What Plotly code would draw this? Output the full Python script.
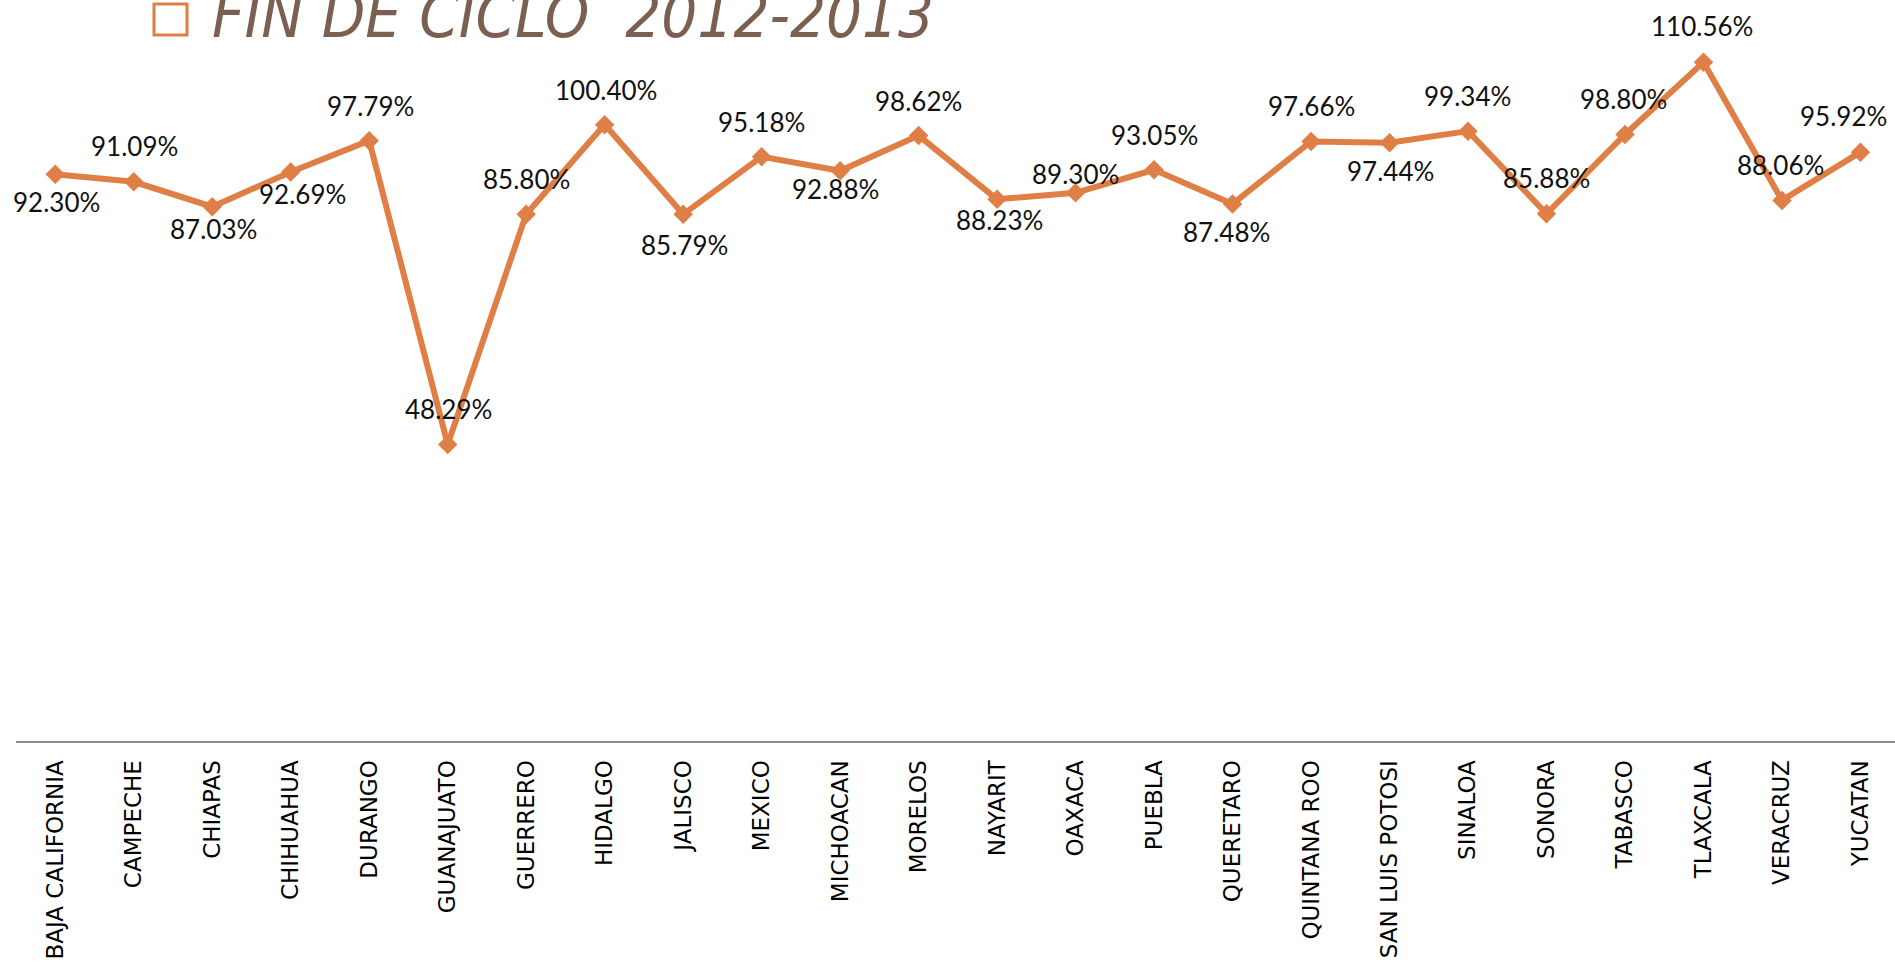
import plotly.graph_objects as go

states = ["BAJA CALIFORNIA", "CAMPECHE", "CHIAPAS", "CHIHUAHUA", "DURANGO", "GUANAJUATO",
          "GUERRERO", "HIDALGO", "JALISCO", "MEXICO", "MICHOACAN", "MORELOS", "NAYARIT",
          "OAXACA", "PUEBLA", "QUERETARO", "QUINTANA ROO", "SAN LUIS POTOSI", "SINALOA",
          "SONORA", "TABASCO", "TLAXCALA", "VERACRUZ", "YUCATAN"]
values = [92.30, 91.09, 87.03, 92.69, 97.79, 48.29, 85.80, 100.40, 85.79, 95.18, 92.88, 98.62,
          88.23, 89.30, 93.05, 87.48, 97.66, 97.44, 99.34, 85.88, 98.80, 110.56, 88.06, 95.92]
series_name = "FIN DE CICLO  2012-2013"

# label placement (pixel offsets of label centre from its point; +dy = up)
label_dx = [1, 1, 1, 12, 1, 1, 0, 1, 1, 0, -5, 0, 2, 0, 0, -6, 0, 1, -1, 0, -2, -1, -1, -17]
label_dy = [-28, 36, -22, -22, 35, 36, 35, 35, -31, 35, -18, 35, -21, 19, 35, -28, 35, -28,
            35, 36, 35, 36, 35, 36]

ORANGE = "#E07F45"
W, H = 1895, 962
ML, MB = 16, 221
PW, PH = W - ML, H - MB

fig = go.Figure()
fig.add_trace(go.Scatter(
    x=states, y=values, mode="lines+markers",
    line=dict(color=ORANGE, width=6),
    marker=dict(symbol="diamond", size=15, color=ORANGE),
    name=series_name, showlegend=False, hoverinfo="skip"))

for s, v, dx, dy in zip(states, values, label_dx, label_dy):
    fig.add_annotation(x=s, y=v, xref="x", yref="y", text=f"{v:.2f}%", showarrow=False,
                       xanchor="center", yanchor="middle", xshift=dx, yshift=dy,
                       font=dict(family="Lato", size=26, color="#111111"))

# legend-like header
fig.add_shape(type="rect", xref="paper", yref="paper",
              x0=(154 - ML) / PW, x1=(187 - ML) / PW, y0=1 - 35 / PH, y1=1 - 4 / PH,
              line=dict(color=ORANGE, width=3), fillcolor="white")
fig.add_annotation(xref="paper", yref="paper", x=(210 - ML) / PW, y=1, xanchor="left",
                   yanchor="bottom", yshift=-54, showarrow=False,
                   text=series_name,
                   font=dict(family="DejaVu Sans Condensed, Liberation Sans Narrow, DejaVu Sans",
                             size=63, color="#7B6052", style="italic"))

fig.update_layout(
    width=W, height=H,
    margin=dict(l=ML, r=0, t=0, b=MB, pad=0),
    paper_bgcolor="white", plot_bgcolor="white",
    xaxis=dict(type="category", range=[-0.5, 23.44], showline=True, linecolor="#8C8C8C",
               linewidth=2, showgrid=False, zeroline=False, ticks="", tickangle=-90,
               ticklabelstandoff=8,
               tickfont=dict(family="DejaVu Sans", size=23, color="#000000")),
    yaxis=dict(range=[0, 120.7], visible=False, showgrid=False, zeroline=False),
)

fig.write_html("out.html", config={"displayModeBar": False},
               post_script="document.body.style.margin='0';")
